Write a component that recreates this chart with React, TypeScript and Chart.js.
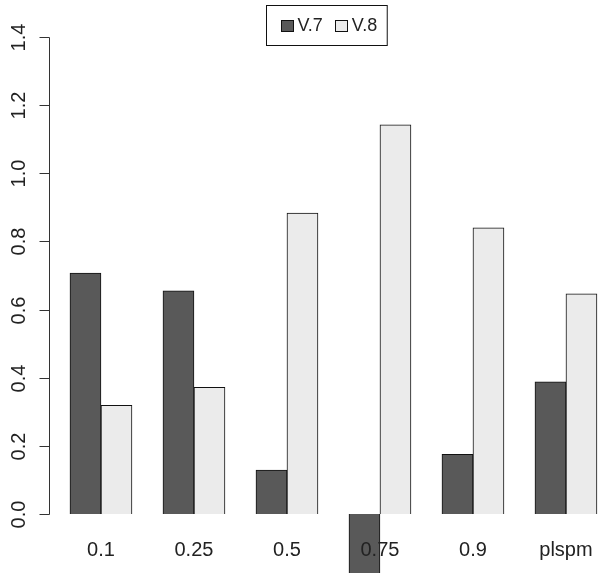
import React, { useEffect, useRef } from "react";
import { Chart, registerables } from "chart.js";

Chart.register(...registerables);

const categories = ["0.1", "0.25", "0.5", "0.75", "0.9", "plspm"];
const seriesNames = ["V.7", "V.8"];
const seriesV7 = [0.707, 0.655, 0.129, -0.19, 0.175, 0.388];
const seriesV8 = [0.319, 0.372, 0.883, 1.142, 0.84, 0.646];
const seriesColors = ["#595959", "#ebebeb"];
const yTicks = [0, 0.2, 0.4, 0.6, 0.8, 1.0, 1.2, 1.4];
const yTickLabels = ["0.0", "0.2", "0.4", "0.6", "0.8", "1.0", "1.2", "1.4"];

const FONT = "Liberation Sans, Arial, Helvetica, sans-serif";
const AXIS_FONT_SIZE = 20;
const LEGEND_FONT_SIZE = 18;

const rAxisPlugin = {
  id: "rAxis",
  afterDraw(chart: any) {
    const ctx = chart.ctx;
    const y = chart.scales.y;
    const area = chart.chartArea;
    const x0 = area.left - 0.5;
    ctx.save();
    ctx.strokeStyle = "#333";
    ctx.lineWidth = 1;
    const top = Math.round(y.getPixelForValue(yTicks[yTicks.length - 1])) + 0.5;
    const bot = Math.round(y.getPixelForValue(yTicks[0])) + 0.5;
    ctx.beginPath();
    ctx.moveTo(x0, top);
    ctx.lineTo(x0, bot);
    ctx.stroke();
    ctx.fillStyle = "#222";
    ctx.font = `${AXIS_FONT_SIZE}px ${FONT}`;
    ctx.textAlign = "center";
    ctx.textBaseline = "middle";
    yTicks.forEach((v, i) => {
      const py = Math.round(y.getPixelForValue(v)) + 0.5;
      ctx.beginPath();
      ctx.moveTo(x0 - 10, py);
      ctx.lineTo(x0, py);
      ctx.stroke();
      ctx.save();
      ctx.translate(area.left - 31, py);
      ctx.rotate(-Math.PI / 2);
      ctx.fillText(yTickLabels[i], 0, 0);
      ctx.restore();
    });
    ctx.restore();
  },
};

const rLegendPlugin = {
  id: "rLegend",
  afterDraw(chart: any) {
    const ctx = chart.ctx;
    const area = chart.chartArea;
    ctx.save();
    ctx.font = `${LEGEND_FONT_SIZE}px ${FONT}`;
    const sq = 12;
    const gapSqText = 5;
    const gapItems = 12;
    const padL = 14;
    const padR = 10;
    const widths = seriesNames.map((n) => ctx.measureText(n).width);
    let total = padL + padR;
    widths.forEach((w, i) => {
      total += sq + gapSqText + w + (i < widths.length - 1 ? gapItems : 0);
    });
    const cx = (area.left + area.right) / 2 + 1;
    const left = Math.round(cx - total / 2) + 0.5;
    const top = 5.5;
    const h = 40;
    ctx.fillStyle = "#fff";
    ctx.fillRect(left, top, total, h);
    ctx.strokeStyle = "#111";
    ctx.lineWidth = 1;
    ctx.strokeRect(left, top, total, h);
    let x = left + padL;
    const cy = top + h / 2;
    seriesNames.forEach((n, i) => {
      ctx.fillStyle = seriesColors[i];
      ctx.fillRect(Math.round(x) + 0.5, Math.round(cy - sq / 2) + 0.5, sq, sq - 1);
      ctx.strokeStyle = "#111";
      ctx.strokeRect(Math.round(x) + 0.5, Math.round(cy - sq / 2) + 0.5, sq, sq - 1);
      x += sq + gapSqText;
      ctx.fillStyle = "#222";
      ctx.textAlign = "left";
      ctx.textBaseline = "middle";
      ctx.fillText(n, x, cy + 1);
      x += widths[i] + gapItems;
    });
    ctx.restore();
  },
};

export default function App() {
  const ref = useRef<HTMLCanvasElement | null>(null);
  useEffect(() => {
    if (!ref.current) return;
    const mk = (vals: number[]) => categories.map((_, i) => ({ x: i, y: vals[i] }));
    const chart = new Chart(ref.current, {
      type: "bar",
      data: {
        datasets: [
          {
            label: seriesNames[0],
            data: mk(seriesV7),
            backgroundColor: seriesColors[0],
            borderColor: "#111",
            borderWidth: 1,
            barThickness: 31,
            clip: false as any,
          },
          {
            label: seriesNames[1],
            data: mk(seriesV8),
            backgroundColor: seriesColors[1],
            borderColor: "#111",
            borderWidth: 1,
            barThickness: 31,
            clip: false as any,
          },
        ],
      },
      options: {
        animation: false,
        responsive: false,
        devicePixelRatio: 1,
        layout: { padding: { left: 50, top: 37, right: 0, bottom: 0 }, autoPadding: false },
        plugins: { legend: { display: false }, tooltip: { enabled: false } },
        scales: {
          x: {
            type: "linear",
            min: -0.548,
            max: 5.366,
            offset: false,
            bounds: "data",
            grid: { display: false, drawTicks: false, offset: false },
            border: { display: false },
            afterBuildTicks: (s: any) => {
              s.ticks = categories.map((_, i) => ({ value: i }));
            },
            afterFit: (s: any) => {
              s.height = 59;
              s.paddingLeft = 0;
              s.paddingRight = 0;
            },
            ticks: {
              z: 1,
              autoSkip: false,
              maxRotation: 0,
              minRotation: 0,
              padding: 24,
              color: "#222",
              font: { family: FONT, size: AXIS_FONT_SIZE },
              callback: (v: any) => categories[v as number],
            },
          },
          y: {
            display: false,
            min: 0,
            max: 1.4,
          },
        },
      },
      plugins: [rAxisPlugin, rLegendPlugin],
    } as any);
    return () => chart.destroy();
  }, []);
  return (
    <div style={{ position: "fixed", left: 0, top: 0, width: 600, height: 573, background: "#fff" }}>
      <canvas ref={ref} width={600} height={573} style={{ display: "block" }} />
    </div>
  );
}
